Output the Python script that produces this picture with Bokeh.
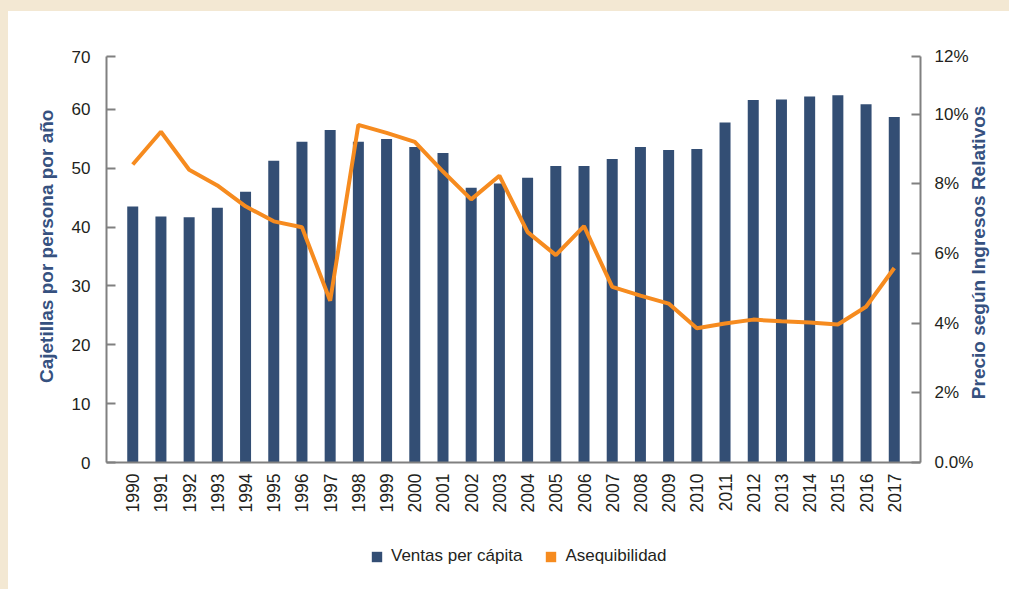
import math
from bokeh.plotting import figure
from bokeh.models import (Range1d, FactorRange, LinearAxis, FixedTicker, Legend,
                          LegendItem, ColumnDataSource)
from bokeh.layouts import column
from bokeh.embed import file_html
from bokeh.resources import INLINE

# ---------------- data ----------------
years = ["1990", "1991", "1992", "1993", "1994", "1995", "1996", "1997", "1998", "1999",
         "2000", "2001", "2002", "2003", "2004", "2005", "2006", "2007", "2008", "2009",
         "2010", "2011", "2012", "2013", "2014", "2015", "2016", "2017"]
ventas = [43.5, 41.8, 41.7, 43.3, 46.0, 51.3, 54.5, 56.5, 54.5, 55.0,
          53.6, 52.6, 46.7, 47.4, 48.4, 50.4, 50.4, 51.6, 53.6, 53.1,
          53.3, 57.8, 61.6, 61.7, 62.2, 62.4, 60.9, 58.7]
asequibilidad = [8.55, 9.49, 8.40, 7.95, 7.35, 6.92, 6.75, 4.64, 9.69, 9.46,
                 9.20, 8.35, 7.55, 8.23, 6.61, 5.95, 6.78, 5.04, 4.79, 4.56,
                 3.85, 3.99, 4.10, 4.05, 4.02, 3.96, 4.47, 5.58]
left_ticks = [0, 10, 20, 30, 40, 50, 60, 69]
left_labels = ["0", "10", "20", "30", "40", "50", "60", "70"]
right_ticks = [0, 2, 4, 6, 8, 10, 11.65]
right_labels = ["0.0%", "2%", "4%", "6%", "8%", "10%", "12%"]

left_title = "Cajetillas por persona por año"
right_title = "Precio según Ingresos Relativos"
legend_labels = ["Ventas per cápita", "Asequibilidad"]

# ---------------- styles ----------------
BAR = "#334E74"
ORANGE = "#F68B1F"
TITLE = "#36517F"
AXIS = "#808080"
TXT = "#231F20"
FONT = "Liberation Sans"
BG = "#F3E8D3"
NB = "\u00a0"

src = ColumnDataSource(dict(x=years, ventas=ventas, ase=asequibilidad,
                            zero=[0] * len(years)))
xr = FactorRange(factors=years, range_padding=0.43, range_padding_units="absolute")

p = figure(x_range=xr, y_range=Range1d(0, left_ticks[-1]),
           width=1001, height=504,
           min_border_left=98, min_border_right=89,
           min_border_top=45, min_border_bottom=50,
           output_backend="svg", toolbar_location=None,
           background_fill_color="white", border_fill_color="white")
p.extra_y_ranges = {"pct": Range1d(0, right_ticks[-1])}
p.outline_line_color = None
p.xgrid.visible = False
p.ygrid.visible = False

p.vbar(x="x", top="ventas", width=0.39, source=src, fill_color=BAR, line_color=None)
p.line(x="x", y="ase", source=src, y_range_name="pct",
       line_color=ORANGE, line_width=4)

# x axis
xa = p.xaxis[0]
xa.axis_line_color = AXIS
xa.axis_line_width = 2
xa.major_tick_line_color = None
xa.minor_tick_line_color = None
xa.major_label_orientation = math.pi / 2
xa.major_label_standoff = 5
xa.major_label_text_font = FONT
xa.major_label_text_font_size = "17.5px"
xa.major_label_text_color = TXT

# left axis
ya = p.yaxis[0]
ya.ticker = FixedTicker(ticks=left_ticks)
ya.major_label_overrides = {t: l for t, l in zip(left_ticks, left_labels)}
ya.axis_line_color = AXIS
ya.axis_line_width = 2
ya.major_tick_line_color = AXIS
ya.major_tick_line_width = 2
ya.major_tick_in = 9
ya.major_tick_out = 0
ya.minor_tick_line_color = None
ya.major_label_standoff = 16
ya.major_label_text_font = FONT
ya.major_label_text_font_size = "17px"
ya.major_label_text_color = TXT
ya.axis_label = NB * 5 + left_title
ya.axis_label_text_font = FONT
ya.axis_label_text_font_size = "19px"
ya.axis_label_text_font_style = "bold"
ya.axis_label_text_color = TITLE
ya.axis_label_standoff = 12

# right axis
ra = LinearAxis(y_range_name="pct", ticker=FixedTicker(ticks=right_ticks))
ra.major_label_overrides = {t: l for t, l in zip(right_ticks, right_labels)}
ra.axis_line_color = AXIS
ra.axis_line_width = 2
ra.major_tick_line_color = AXIS
ra.major_tick_line_width = 2
ra.major_tick_in = 9
ra.major_tick_out = 0
ra.minor_tick_line_color = None
ra.major_label_standoff = 14
ra.major_label_text_font = FONT
ra.major_label_text_font_size = "17px"
ra.major_label_text_color = TXT
ra.axis_label_text_font = FONT
ra.axis_label_text_font_size = "19px"
ra.axis_label_text_font_style = "bold"
ra.axis_label_text_color = TITLE
ra.axis_label_standoff = 2
try:
    ra.axis_label_orientation = math.pi / 2
    ra.axis_label_align = "start"
    ra.axis_label = NB * 12 + right_title
except Exception:
    ra.axis_label = right_title
p.add_layout(ra, "right")

# legend strip (separate figure below the chart)
pl = figure(x_range=xr, y_range=Range1d(0, 1), width=1001, height=74,
            min_border_left=0, min_border_right=0, min_border_top=0,
            min_border_bottom=0, x_axis_type=None, y_axis_type=None,
            output_backend="svg", toolbar_location=None,
            background_fill_color=None, border_fill_color=None)
pl.outline_line_color = None
pl.xgrid.visible = False
pl.ygrid.visible = False
prox_bar = pl.vbar(x="x", top="zero", width=0.39, source=src,
                   fill_color=BAR, line_color=None)
prox_line = pl.vbar(x="x", top="zero", width=0.39, source=src,
                    fill_color=ORANGE, line_color=None)
legend = Legend(items=[LegendItem(label=legend_labels[0], renderers=[prox_bar]),
                       LegendItem(label=legend_labels[1], renderers=[prox_line])],
                orientation="horizontal", location=(264, 23),
                glyph_width=13, glyph_height=13, label_standoff=8, spacing=22,
                label_text_font=FONT, label_text_font_size="17px",
                label_text_color=TXT, border_line_color=None,
                background_fill_alpha=0, margin=0, padding=5)
pl.add_layout(legend, "center")

layout = column(p, pl, spacing=0, styles={"background-color": "white"})
html = file_html(layout, INLINE)
css = ("<style>html,body{background:%s !important;overflow:hidden !important;}"
       "body{margin:0 !important;padding:11px 0 0 8px !important;}</style>" % BG)
html = html.replace("</head>", css + "</head>", 1)
open("out.html", "w").write(html)
